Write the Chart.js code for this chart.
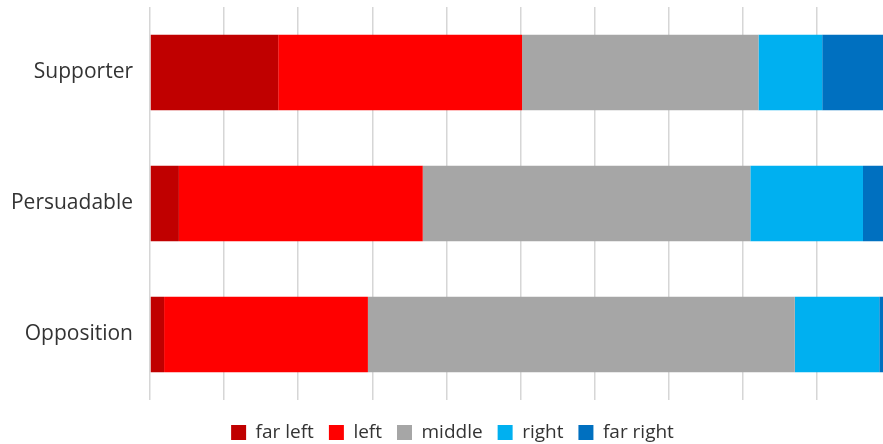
<!DOCTYPE html>
<html>
<head>
<meta charset="utf-8">
<script src="https://cdn.jsdelivr.net/npm/chart.js@4/dist/chart.umd.min.js"></script>
<style>
  html, body { margin: 0; padding: 0; background: #fff; }
  #wrap { width: 883px; height: 444px; }
</style>
</head>
<body>
<div id="wrap"><canvas id="chart"></canvas></div>
<script>
// categorias y series (porcentaje de cada grupo)
const groups = ['Supporter', 'Persuadable', 'Opposition'];
const seriesNames = ['far left', 'left', 'middle', 'right', 'far right'];
const seriesColors = ['#C00000', '#FF0000', '#A6A6A6', '#00B0F0', '#0070C0'];

const farLeft  = [17.3, 3.9, 1.9];
const left     = [32.9, 32.9, 27.5];
const middle   = [31.9, 44.2, 57.6];
const right    = [8.6, 15.2, 11.4];
const farRight = [9.3, 3.8, 1.6];

const seriesValues = [farLeft, left, middle, right, farRight];

const FONT = '"Open Sans", "DejaVu Sans", sans-serif';

// corre la leyenda un poco a la derecha (en el original no esta centrada en el canvas)
const legendShift = {
  id: 'legendShift',
  afterLayout(chart) {
    const lg = chart.legend;
    if (!lg) return;
    lg.left += 11;
    lg.right += 11;
  },
};

new Chart(document.getElementById('chart'), {
  type: 'bar',
  data: {
    labels: groups,
    datasets: seriesNames.map((name, i) => ({
      label: name,
      data: seriesValues[i],
      backgroundColor: seriesColors[i],
      borderWidth: 0,
      barPercentage: 0.577,
      categoryPercentage: 1,
    })),
  },
  options: {
    indexAxis: 'y',
    responsive: true,
    maintainAspectRatio: false,
    animation: false,
    // bottom negativo: la leyenda queda mas abajo como en el original
    layout: { padding: { top: 7, right: 0, left: 0, bottom: -8 } },
    plugins: {
      tooltip: { enabled: false },
      legend: {
        position: 'bottom',
        labels: {
          color: '#333',
          font: { family: FONT, size: 19 },
          boxWidth: 15,
          boxHeight: 15,
          padding: 15,
        },
      },
    },
    scales: {
      x: {
        stacked: true,
        min: 0,
        max: 98.9,
        afterFit: s => { s.height = 8; },
        ticks: { display: false, stepSize: 10 },
        grid: {
          color: c => (c.tick && c.tick.value % 10 === 0) ? '#d6d6d6' : 'transparent',
          lineWidth: 1.5,
          drawTicks: false,
        },
        border: { display: false },
      },
      y: {
        stacked: true,
        afterFit: s => { s.width = 150; s.paddingTop = 0; s.paddingBottom = 0; },
        ticks: {
          color: '#333',
          font: { family: FONT, size: 21 },
          padding: 17,
        },
        grid: { display: false, drawTicks: false },
        border: { display: false },
      },
    },
  },
  plugins: [legendShift],
});
</script>
</body>
</html>
